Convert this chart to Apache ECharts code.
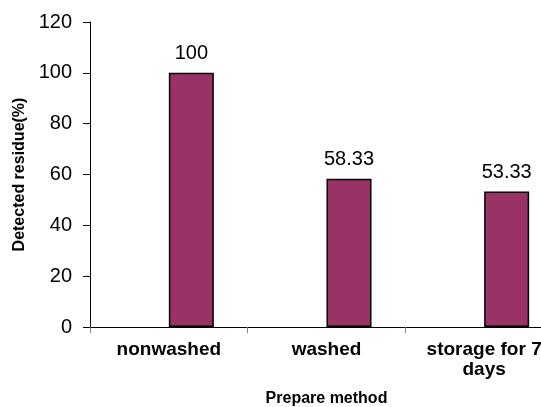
<!DOCTYPE html>
<html><head><meta charset="utf-8">
<script src="https://cdn.jsdelivr.net/npm/echarts@6/dist/echarts.min.js"></script>
<style>html,body{margin:0;padding:0;background:#fff}#c{width:541px;height:407px}</style>
</head><body><div id="c"></div>
<script>
var categories = ['nonwashed', 'washed', 'storage for 7\ndays'];
var residueValues = [100, 58.33, 53.33];
var emptyValues = ['-', '-', '-'];
var yTicks = [0, 20, 40, 60, 80, 100, 120];

var F = 'Arial, "Liberation Sans", sans-serif';
var chart = echarts.init(document.getElementById('c'), null, {renderer: 'canvas'});
chart.setOption({
  animation: false,
  backgroundColor: '#ffffff',
  grid: {left: 90, top: 22, width: 473, height: 305, containLabel: false, outerBoundsMode: 'none'},
  xAxis: {
    type: 'category',
    data: categories,
    axisLine: {lineStyle: {color: '#000', width: 1}},
    axisTick: {show: true, length: 6, lineStyle: {color: '#808080'}},
    axisLabel: {fontFamily: F, fontSize: 19, fontWeight: 'bold', color: '#000', margin: 13, lineHeight: 20, hideOverlap: false},
    name: 'Prepare method',
    nameLocation: 'middle',
    nameGap: 64,
    nameTextStyle: {fontFamily: F, fontSize: 16, fontWeight: 'bold', color: '#000'}
  },
  yAxis: {
    type: 'value',
    min: yTicks[0], max: yTicks[yTicks.length - 1], interval: 20,
    splitLine: {show: false},
    axisLine: {show: true, lineStyle: {color: '#000', width: 1}},
    axisTick: {show: true, length: 7, lineStyle: {color: '#000'}},
    axisLabel: {fontFamily: F, fontSize: 20, color: '#000', margin: 18},
    name: 'Detected residue(%)',
    nameLocation: 'middle',
    nameGap: 62,
    nameTextStyle: {fontFamily: F, fontSize: 16, fontWeight: 'bold', color: '#000'}
  },
  series: [
    {type: 'bar', data: emptyValues, barWidth: 45, barGap: '0%'},
    {type: 'bar', data: residueValues, barWidth: 45, barGap: '0%',
     itemStyle: {color: '#993366', borderColor: '#000', borderWidth: 1.5},
     label: {show: true, position: 'top', distance: 9, fontFamily: F, fontSize: 20, color: '#000'}}
  ]
});
</script></body></html>
